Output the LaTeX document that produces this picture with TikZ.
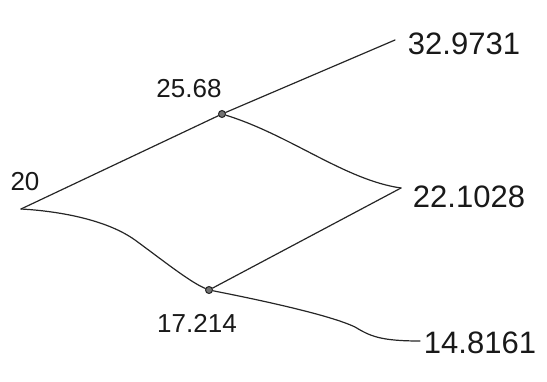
\documentclass[tikz,border=0pt]{standalone}
\usepackage{fontspec}
\setmainfont{Liberation Sans}
\begin{document}
\begin{tikzpicture}[x=1pt,y=-1pt,
  edge/.style={draw=black!85,line width=1.2pt,line cap=round},
  dot/.style={circle,fill=black!55,draw=black!85,line width=1pt,inner sep=0pt,minimum size=7pt},
  lbl/.style={text=black!90,inner sep=0pt,font=\fontsize{26}{28}\selectfont},
  biglbl/.style={text=black!90,inner sep=0pt,font=\fontsize{31}{33}\selectfont}]
\useasboundingbox (0,0) rectangle (547,381);
% tree points
\coordinate (root) at (21,209);
\node[dot] (up) at (222,114) {};
\node[dot] (dn) at (209,290) {};
\coordinate (uu) at (395,40);
\coordinate (ud) at (401,188);
\coordinate (dd) at (420,341);
% connectors
\draw[edge] (root) -- (up);
\draw[edge] (up) -- (uu);
\draw[edge] (up) .. controls (290,135) and (345,180) .. (ud);
\draw[edge] (root) .. controls (40,210) and (100,215) .. (135,240)
  .. controls (165,262) and (190,282) .. (dn);
\draw[edge] (dn) -- (ud);
\draw[edge] (dn) .. controls (260,300) and (330,315) .. (355,327)
  .. controls (370,336) and (380,341) .. (dd);
% labels
\node[lbl] (l20) at (25,182) {20};
\node[lbl] (lup) at (189,89) {25.68};
\node[lbl] (ldn) at (197,323) {17.214};
\node[biglbl] (luu) at (464,44) {32.9731};
\node[biglbl] (lud) at (469,197) {22.1028};
\node[biglbl] (ldd) at (480,343) {14.8161};
\end{tikzpicture}
\end{document}
